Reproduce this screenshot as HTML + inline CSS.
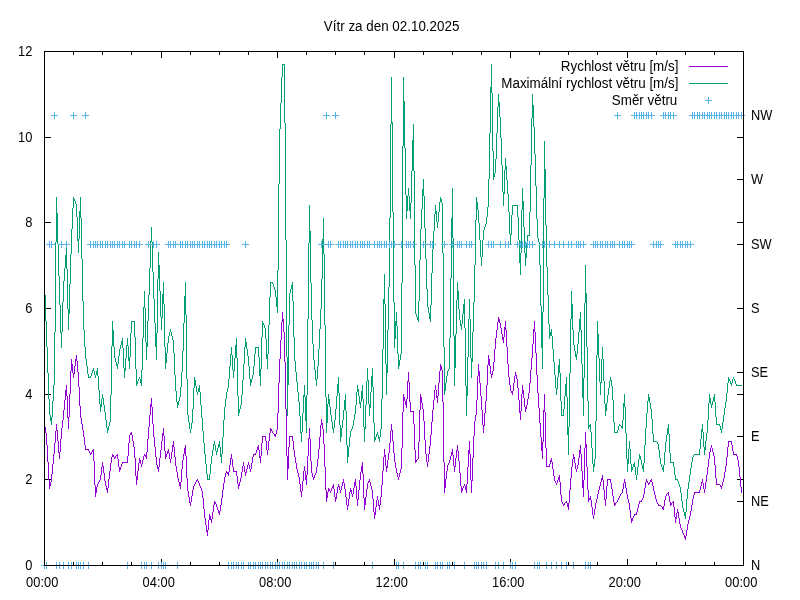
<!DOCTYPE html>
<html lang="cs"><head><meta charset="utf-8"><title>Vítr za den 02.10.2025</title>
<style>html,body{margin:0;padding:0;background:#fff;overflow:hidden}svg{display:block}text{font-family:"Liberation Sans",Arial,sans-serif;font-size:13.33px;fill:#000}</style></head><body>
<svg width="800" height="600" viewBox="0 0 800 600">
<rect width="800" height="600" fill="#fff"/>
<text transform="translate(391.6 30.7) scale(1.005 1.04)" text-anchor="middle">Vítr za den 02.10.2025</text>
<text transform="translate(32.4 569.6) scale(0.965 1.04)" text-anchor="end">0</text>
<text transform="translate(32.4 483.6) scale(0.965 1.04)" text-anchor="end">2</text>
<text transform="translate(32.4 398.6) scale(0.965 1.04)" text-anchor="end">4</text>
<text transform="translate(32.4 312.6) scale(0.965 1.04)" text-anchor="end">6</text>
<text transform="translate(32.4 226.6) scale(0.965 1.04)" text-anchor="end">8</text>
<text transform="translate(32.4 141.6) scale(0.965 1.04)" text-anchor="end">10</text>
<text transform="translate(32.4 55.6) scale(0.965 1.04)" text-anchor="end">12</text>
<text transform="translate(42.2 586.8) scale(0.965 1.04)" text-anchor="middle">00:00</text>
<text transform="translate(158.7 586.8) scale(0.965 1.04)" text-anchor="middle">04:00</text>
<text transform="translate(275.2 586.8) scale(0.965 1.04)" text-anchor="middle">08:00</text>
<text transform="translate(391.7 586.8) scale(0.965 1.04)" text-anchor="middle">12:00</text>
<text transform="translate(508.2 586.8) scale(0.965 1.04)" text-anchor="middle">16:00</text>
<text transform="translate(624.7 586.8) scale(0.965 1.04)" text-anchor="middle">20:00</text>
<text transform="translate(741.2 586.8) scale(0.965 1.04)" text-anchor="middle">00:00</text>
<text transform="translate(751 569.6) scale(0.96 1.04)" text-anchor="start">N</text>
<text transform="translate(751 505.6) scale(0.96 1.04)" text-anchor="start">NE</text>
<text transform="translate(751 440.6) scale(0.96 1.04)" text-anchor="start">E</text>
<text transform="translate(751 376.6) scale(0.96 1.04)" text-anchor="start">SE</text>
<text transform="translate(751 312.6) scale(0.96 1.04)" text-anchor="start">S</text>
<text transform="translate(751 248.6) scale(0.96 1.04)" text-anchor="start">SW</text>
<text transform="translate(751 183.6) scale(0.96 1.04)" text-anchor="start">W</text>
<text transform="translate(751 119.6) scale(0.96 1.04)" text-anchor="start">NW</text>
<text transform="translate(678.4 70.8) scale(1.005 1.04)" text-anchor="end">Rychlost větru [m/s]</text>
<text transform="translate(678.4 87.8) scale(1.005 1.04)" text-anchor="end">Maximální rychlost větru [m/s]</text>
<text transform="translate(677.3 104.8) scale(1.005 1.04)" text-anchor="end">Směr větru</text>
<g shape-rendering="crispEdges" stroke="none">
<path fill="#000" d="M73 51h1v4h-1zM73 562h1v4h-1zM102 51h1v4h-1zM102 562h1v4h-1zM131 51h1v4h-1zM131 562h1v4h-1zM161 51h1v7h-1zM161 559h1v7h-1zM190 51h1v4h-1zM190 562h1v4h-1zM219 51h1v4h-1zM219 562h1v4h-1zM248 51h1v4h-1zM248 562h1v4h-1zM277 51h1v7h-1zM277 559h1v7h-1zM306 51h1v4h-1zM306 562h1v4h-1zM335 51h1v4h-1zM335 562h1v4h-1zM364 51h1v4h-1zM364 562h1v4h-1zM394 51h1v7h-1zM394 559h1v7h-1zM423 51h1v4h-1zM423 562h1v4h-1zM452 51h1v4h-1zM452 562h1v4h-1zM481 51h1v4h-1zM481 562h1v4h-1zM510 51h1v7h-1zM510 559h1v7h-1zM539 51h1v4h-1zM539 562h1v4h-1zM568 51h1v4h-1zM568 562h1v4h-1zM597 51h1v4h-1zM597 562h1v4h-1zM627 51h1v7h-1zM627 559h1v7h-1zM656 51h1v4h-1zM656 562h1v4h-1zM685 51h1v4h-1zM685 562h1v4h-1zM714 51h1v4h-1zM714 562h1v4h-1zM44 137h7v1h-7zM44 222h7v1h-7zM44 308h7v1h-7zM44 394h7v1h-7zM44 479h7v1h-7zM737 115h7v1h-7zM737 137h7v1h-7zM737 179h7v1h-7zM737 222h7v1h-7zM737 244h7v1h-7zM737 308h7v1h-7zM737 372h7v1h-7zM737 394h7v1h-7zM737 436h7v1h-7zM737 479h7v1h-7zM737 501h7v1h-7zM737 565h7v1h-7z"/>
<path fill="#9400d3" d="M44 424h1v3h-1zM45 427h1v6h-1zM46 433h1v12h-1zM47 445h1v17h-1zM48 462h1v18h-1zM49 480h1v9h-1zM50 482h1v4h-1zM51 474h1v8h-1zM52 464h1v10h-1zM53 454h1v10h-1zM54 443h1v11h-1zM55 431h1v12h-1zM56 424h1v7h-1zM57 430h1v11h-1zM58 441h1v12h-1zM59 452h1v7h-1zM60 439h1v13h-1zM61 428h1v11h-1zM62 420h1v8h-1zM63 410h1v10h-1zM64 400h1v10h-1zM65 390h1v10h-1zM66 385h1v11h-1zM67 396h1v22h-1zM68 417h1v12h-1zM69 394h1v23h-1zM70 371h1v23h-1zM71 359h1v12h-1zM72 364h1v9h-1zM73 373h1v5h-1zM74 366h1v8h-1zM75 359h1v7h-1zM76 355h1v6h-1zM77 361h1v11h-1zM78 372h1v15h-1zM79 387h1v19h-1zM80 406h1v12h-1zM81 418h1v6h-1zM82 424h1v6h-1zM83 430h1v7h-1zM84 437h1v8h-1zM85 445h1v5h-1zM88 449h1v2h-1zM89 451h1v2h-1zM90 453h1v2h-1zM91 452h1v2h-1zM92 450h1v2h-1zM93 449h1v12h-1zM94 461h1v24h-1zM95 485h1v12h-1zM96 487h1v6h-1zM97 484h1v3h-1zM98 482h1v2h-1zM99 480h1v2h-1zM100 475h1v5h-1zM101 467h1v8h-1zM102 462h1v5h-1zM103 466h1v7h-1zM104 473h1v8h-1zM105 481h1v5h-1zM106 486h1v4h-1zM107 488h1v5h-1zM108 479h1v9h-1zM109 471h1v8h-1zM110 463h1v8h-1zM111 457h1v6h-1zM112 454h1v3h-1zM113 455h1v2h-1zM114 457h1v2h-1zM115 456h1v2h-1zM117 454h1v5h-1zM118 459h1v8h-1zM119 467h1v5h-1zM120 467h1v3h-1zM121 464h1v3h-1zM122 462h1v2h-1zM127 456h1v7h-1zM128 443h1v13h-1zM129 435h1v8h-1zM130 433h1v2h-1zM131 432h1v3h-1zM132 435h1v6h-1zM133 441h1v6h-1zM134 447h1v11h-1zM135 458h1v18h-1zM136 476h1v9h-1zM137 471h1v9h-1zM138 463h1v8h-1zM139 458h1v5h-1zM140 460h1v4h-1zM141 464h1v3h-1zM142 460h1v4h-1zM143 456h1v4h-1zM144 454h1v2h-1zM145 455h1v2h-1zM146 452h1v7h-1zM147 439h1v13h-1zM148 427h1v12h-1zM149 415h1v12h-1zM150 404h1v11h-1zM151 398h1v9h-1zM152 407h1v17h-1zM153 424h1v13h-1zM154 437h1v10h-1zM155 447h1v10h-1zM156 457h1v8h-1zM157 465h1v4h-1zM158 467h1v5h-1zM159 458h1v9h-1zM160 450h1v8h-1zM161 441h1v9h-1zM162 433h1v8h-1zM163 428h1v8h-1zM164 436h1v15h-1zM165 451h1v8h-1zM166 454h1v3h-1zM167 451h1v3h-1zM168 449h1v4h-1zM169 453h1v6h-1zM170 459h1v4h-1zM171 452h1v7h-1zM172 445h1v7h-1zM173 441h1v6h-1zM174 447h1v10h-1zM175 457h1v9h-1zM176 466h1v6h-1zM177 472h1v6h-1zM178 478h1v4h-1zM179 482h1v4h-1zM180 482h1v7h-1zM181 469h1v13h-1zM182 460h1v9h-1zM183 454h1v6h-1zM184 448h1v6h-1zM185 445h1v11h-1zM186 456h1v22h-1zM187 478h1v13h-1zM188 491h1v6h-1zM189 497h1v6h-1zM190 502h1v4h-1zM191 496h1v6h-1zM192 490h1v6h-1zM193 486h1v4h-1zM194 484h1v2h-1zM195 482h1v2h-1zM196 480h1v2h-1zM197 479h1v2h-1zM198 481h1v2h-1zM199 483h1v3h-1zM200 486h1v2h-1zM201 488h1v3h-1zM202 491h1v7h-1zM203 498h1v11h-1zM204 509h1v9h-1zM205 518h1v7h-1zM206 525h1v7h-1zM207 530h1v6h-1zM208 520h1v10h-1zM209 514h1v6h-1zM210 516h1v4h-1zM211 519h1v4h-1zM212 512h1v7h-1zM213 505h1v7h-1zM214 501h1v4h-1zM215 502h1v2h-1zM216 504h1v3h-1zM217 507h1v3h-1zM218 510h1v3h-1zM219 511h1v4h-1zM220 505h1v6h-1zM221 498h1v7h-1zM222 490h1v8h-1zM223 483h1v7h-1zM224 477h1v6h-1zM225 473h1v4h-1zM226 471h1v2h-1zM227 472h1v2h-1zM228 472h1v4h-1zM229 465h1v7h-1zM230 458h1v7h-1zM231 454h1v5h-1zM232 459h1v8h-1zM233 467h1v5h-1zM236 471h1v5h-1zM237 476h1v8h-1zM238 484h1v5h-1zM239 482h1v4h-1zM240 478h1v4h-1zM241 472h1v6h-1zM242 466h1v6h-1zM243 462h1v4h-1zM244 466h1v6h-1zM245 472h1v4h-1zM246 469h1v4h-1zM247 465h1v4h-1zM248 462h1v3h-1zM249 465h1v4h-1zM250 469h1v3h-1zM251 463h1v6h-1zM252 457h1v6h-1zM253 454h1v3h-1zM255 453h1v2h-1zM256 450h1v3h-1zM257 447h1v3h-1zM258 445h1v5h-1zM259 450h1v8h-1zM260 456h1v7h-1zM261 443h1v13h-1zM262 436h1v7h-1zM265 436h1v5h-1zM266 441h1v9h-1zM267 450h1v5h-1zM268 441h1v9h-1zM269 433h1v8h-1zM270 428h1v5h-1zM271 429h1v2h-1zM272 431h1v2h-1zM274 434h1v2h-1zM275 434h1v3h-1zM276 430h1v4h-1zM277 413h1v17h-1zM278 383h1v30h-1zM279 359h1v24h-1zM280 340h1v19h-1zM281 322h1v18h-1zM282 312h1v10h-1zM283 319h1v13h-1zM284 332h1v30h-1zM285 362h1v47h-1zM286 409h1v47h-1zM287 456h1v24h-1zM288 447h1v22h-1zM289 436h1v11h-1zM292 436h1v5h-1zM293 441h1v9h-1zM294 450h1v7h-1zM295 457h1v6h-1zM296 463h1v6h-1zM297 469h1v4h-1zM298 473h1v4h-1zM299 477h1v7h-1zM300 484h1v8h-1zM301 491h1v6h-1zM302 481h1v10h-1zM303 471h1v10h-1zM304 466h1v5h-1zM305 471h1v9h-1zM306 475h1v10h-1zM307 456h1v19h-1zM308 438h1v18h-1zM309 428h1v11h-1zM310 439h1v22h-1zM311 461h1v12h-1zM312 473h1v4h-1zM313 477h1v3h-1zM314 475h1v3h-1zM315 473h1v2h-1zM316 467h1v6h-1zM317 459h1v8h-1zM318 449h1v10h-1zM319 437h1v12h-1zM320 425h1v12h-1zM321 419h1v6h-1zM322 423h1v6h-1zM323 429h1v15h-1zM324 444h1v23h-1zM325 467h1v23h-1zM326 490h1v12h-1zM327 492h1v6h-1zM328 488h1v4h-1zM329 489h1v2h-1zM330 491h1v2h-1zM331 488h1v3h-1zM332 486h1v2h-1zM333 484h1v5h-1zM334 489h1v8h-1zM335 497h1v5h-1zM336 493h1v6h-1zM337 487h1v6h-1zM338 484h1v3h-1zM339 486h1v4h-1zM340 490h1v3h-1zM341 486h1v4h-1zM342 482h1v4h-1zM343 479h1v4h-1zM344 483h1v6h-1zM345 489h1v8h-1zM346 497h1v8h-1zM347 505h1v5h-1zM348 499h1v7h-1zM349 492h1v7h-1zM350 488h1v4h-1zM351 490h1v4h-1zM352 494h1v3h-1zM353 488h1v6h-1zM354 482h1v6h-1zM355 479h1v7h-1zM356 486h1v13h-1zM357 499h1v7h-1zM358 490h1v10h-1zM359 480h1v10h-1zM360 472h1v8h-1zM361 466h1v6h-1zM362 462h1v12h-1zM363 474h1v24h-1zM364 498h1v12h-1zM365 497h1v8h-1zM366 489h1v8h-1zM367 483h1v6h-1zM368 481h1v2h-1zM369 479h1v3h-1zM370 482h1v4h-1zM371 486h1v4h-1zM372 490h1v9h-1zM373 499h1v13h-1zM374 512h1v7h-1zM375 507h1v8h-1zM376 500h1v7h-1zM377 496h1v4h-1zM378 500h1v6h-1zM379 505h1v5h-1zM380 497h1v8h-1zM381 485h1v12h-1zM382 471h1v14h-1zM383 457h1v14h-1zM384 449h1v8h-1zM385 455h1v11h-1zM386 466h1v6h-1zM387 460h1v8h-1zM388 453h1v7h-1zM389 443h1v10h-1zM390 431h1v12h-1zM391 424h1v7h-1zM392 430h1v11h-1zM393 441h1v12h-1zM394 453h1v9h-1zM395 462h1v6h-1zM396 468h1v5h-1zM397 473h1v4h-1zM398 477h1v3h-1zM399 473h1v4h-1zM400 469h1v4h-1zM401 448h1v21h-1zM402 412h1v36h-1zM403 394h1v18h-1zM404 397h1v4h-1zM405 401h1v4h-1zM406 399h1v9h-1zM407 381h1v18h-1zM408 372h1v10h-1zM409 382h1v20h-1zM410 402h1v10h-1zM413 411h1v13h-1zM414 424h1v26h-1zM415 450h1v13h-1zM416 460h1v2h-1zM418 442h1v17h-1zM419 410h1v32h-1zM420 394h1v16h-1zM421 397h1v6h-1zM422 403h1v6h-1zM423 409h1v12h-1zM424 421h1v19h-1zM425 440h1v14h-1zM426 454h1v8h-1zM427 462h1v5h-1zM428 454h1v8h-1zM429 446h1v8h-1zM430 435h1v11h-1zM431 422h1v13h-1zM432 410h1v12h-1zM433 400h1v10h-1zM434 390h1v10h-1zM435 385h1v5h-1zM436 390h1v8h-1zM437 396h1v7h-1zM438 383h1v13h-1zM439 371h1v12h-1zM440 364h1v7h-1zM441 366h1v4h-1zM442 370h1v32h-1zM443 402h1v60h-1zM444 462h1v31h-1zM445 479h1v9h-1zM446 471h1v8h-1zM447 465h1v6h-1zM448 463h1v2h-1zM449 460h1v3h-1zM450 456h1v4h-1zM451 452h1v4h-1zM452 449h1v6h-1zM453 455h1v11h-1zM454 466h1v6h-1zM455 458h1v9h-1zM456 450h1v8h-1zM457 445h1v6h-1zM458 451h1v10h-1zM459 461h1v12h-1zM460 473h1v13h-1zM461 486h1v7h-1zM462 488h1v3h-1zM463 486h1v2h-1zM464 484h1v2h-1zM465 486h1v4h-1zM466 484h1v9h-1zM467 467h1v17h-1zM468 450h1v17h-1zM469 441h1v13h-1zM470 454h1v26h-1zM471 480h1v13h-1zM472 458h1v23h-1zM473 436h1v22h-1zM474 421h1v15h-1zM475 415h1v6h-1zM476 400h1v15h-1zM477 376h1v24h-1zM478 364h1v12h-1zM479 371h1v12h-1zM480 383h1v13h-1zM481 396h1v14h-1zM482 410h1v15h-1zM483 425h1v8h-1zM484 413h1v13h-1zM485 401h1v12h-1zM486 385h1v16h-1zM487 365h1v20h-1zM488 355h1v10h-1zM489 359h1v7h-1zM490 366h1v8h-1zM491 374h1v4h-1zM492 371h1v4h-1zM493 362h1v9h-1zM494 349h1v13h-1zM495 338h1v11h-1zM496 330h1v8h-1zM497 322h1v8h-1zM498 317h1v5h-1zM499 319h1v4h-1zM500 323h1v5h-1zM501 328h1v6h-1zM502 334h1v6h-1zM503 337h1v6h-1zM504 327h1v10h-1zM505 321h1v9h-1zM506 330h1v17h-1zM507 347h1v17h-1zM508 364h1v13h-1zM509 377h1v8h-1zM510 385h1v6h-1zM511 391h1v2h-1zM512 391h1v4h-1zM513 383h1v8h-1zM514 376h1v7h-1zM515 372h1v4h-1zM516 375h1v4h-1zM517 379h1v9h-1zM518 388h1v12h-1zM519 400h1v13h-1zM520 411h1v9h-1zM521 394h1v17h-1zM522 385h1v9h-1zM523 390h1v8h-1zM524 398h1v9h-1zM525 407h1v5h-1zM526 405h1v4h-1zM527 399h1v6h-1zM528 393h1v6h-1zM529 383h1v10h-1zM530 370h1v13h-1zM531 358h1v12h-1zM532 344h1v14h-1zM533 329h1v15h-1zM534 321h1v11h-1zM535 332h1v21h-1zM536 353h1v22h-1zM537 375h1v18h-1zM538 393h1v15h-1zM539 408h1v15h-1zM540 423h1v14h-1zM541 437h1v14h-1zM542 442h1v17h-1zM543 410h1v32h-1zM544 394h1v18h-1zM545 412h1v36h-1zM546 448h1v19h-1zM549 464h1v3h-1zM550 460h1v4h-1zM551 458h1v4h-1zM552 462h1v7h-1zM553 469h1v7h-1zM554 476h1v5h-1zM555 481h1v2h-1zM556 483h1v2h-1zM557 480h1v3h-1zM558 477h1v3h-1zM559 475h1v7h-1zM560 482h1v13h-1zM561 495h1v7h-1zM562 502h1v2h-1zM563 504h1v2h-1zM564 503h1v2h-1zM566 501h1v2h-1zM567 503h1v4h-1zM568 503h1v7h-1zM569 490h1v13h-1zM570 478h1v12h-1zM571 467h1v11h-1zM572 459h1v8h-1zM573 454h1v5h-1zM574 457h1v6h-1zM575 463h1v6h-1zM576 469h1v3h-1zM577 465h1v4h-1zM578 458h1v7h-1zM579 450h1v8h-1zM580 445h1v9h-1zM581 454h1v17h-1zM582 471h1v17h-1zM583 480h1v17h-1zM584 448h1v32h-1zM585 432h1v16h-1zM586 444h1v23h-1zM587 467h1v23h-1zM588 490h1v12h-1zM589 498h1v2h-1zM590 496h1v4h-1zM591 500h1v7h-1zM592 507h1v8h-1zM593 515h1v4h-1zM594 509h1v6h-1zM595 503h1v6h-1zM596 499h1v4h-1zM597 494h1v5h-1zM598 490h1v4h-1zM599 486h1v4h-1zM600 482h1v4h-1zM601 478h1v4h-1zM602 475h1v5h-1zM603 480h1v10h-1zM604 490h1v10h-1zM605 499h1v7h-1zM606 486h1v13h-1zM607 479h1v7h-1zM610 479h1v4h-1zM611 483h1v6h-1zM612 489h1v7h-1zM613 496h1v6h-1zM614 502h1v4h-1zM615 503h1v2h-1zM617 500h1v2h-1zM618 498h1v2h-1zM619 496h1v2h-1zM620 494h1v2h-1zM622 489h1v4h-1zM623 483h1v6h-1zM624 479h1v4h-1zM625 482h1v6h-1zM626 488h1v6h-1zM627 494h1v5h-1zM628 499h1v4h-1zM629 503h1v7h-1zM630 510h1v8h-1zM631 518h1v5h-1zM632 518h1v3h-1zM633 516h1v2h-1zM634 514h1v2h-1zM636 512h1v3h-1zM637 508h1v4h-1zM638 504h1v4h-1zM639 501h1v3h-1zM641 500h1v2h-1zM642 498h1v2h-1zM643 494h1v4h-1zM644 488h1v6h-1zM645 482h1v6h-1zM646 479h1v3h-1zM647 481h1v2h-1zM648 483h1v2h-1zM649 482h1v2h-1zM650 480h1v2h-1zM651 479h1v3h-1zM652 482h1v4h-1zM653 486h1v5h-1zM654 491h1v4h-1zM655 495h1v4h-1zM656 499h1v3h-1zM657 502h1v2h-1zM658 504h1v2h-1zM662 507h1v2h-1zM663 506h1v4h-1zM664 500h1v6h-1zM665 496h1v4h-1zM666 494h1v2h-1zM668 492h1v4h-1zM669 496h1v6h-1zM670 502h1v4h-1zM671 503h1v2h-1zM673 501h1v6h-1zM674 507h1v10h-1zM675 517h1v6h-1zM676 513h1v6h-1zM677 509h1v4h-1zM678 512h1v6h-1zM679 518h1v6h-1zM680 524h1v4h-1zM681 528h1v2h-1zM682 530h1v3h-1zM683 533h1v2h-1zM684 535h1v3h-1zM685 536h1v4h-1zM686 530h1v6h-1zM687 524h1v6h-1zM688 520h1v4h-1zM689 516h1v4h-1zM690 511h1v5h-1zM691 505h1v6h-1zM692 499h1v6h-1zM693 495h1v4h-1zM694 492h1v3h-1zM699 490h1v3h-1zM700 486h1v4h-1zM701 482h1v4h-1zM702 479h1v4h-1zM703 483h1v6h-1zM704 489h1v4h-1zM705 482h1v7h-1zM706 475h1v7h-1zM707 467h1v8h-1zM708 459h1v8h-1zM709 452h1v7h-1zM710 448h1v4h-1zM711 445h1v3h-1zM712 448h1v4h-1zM713 452h1v4h-1zM714 456h1v9h-1zM715 465h1v13h-1zM716 478h1v7h-1zM720 485h1v2h-1zM721 486h1v3h-1zM722 482h1v4h-1zM723 478h1v4h-1zM724 472h1v6h-1zM725 466h1v6h-1zM726 457h1v9h-1zM727 447h1v10h-1zM728 441h1v6h-1zM731 441h1v4h-1zM732 445h1v6h-1zM733 451h1v4h-1zM736 454h1v2h-1zM737 456h1v4h-1zM738 460h1v7h-1zM739 467h1v10h-1zM740 477h1v10h-1zM741 487h1v6h-1zM86 449h2v1h-2zM116 455h1v1h-1zM123 462h4v1h-4zM234 471h2v1h-2zM254 454h1v1h-1zM263 436h2v1h-2zM273 433h1v1h-1zM290 436h2v1h-2zM411 411h2v1h-2zM417 459h1v1h-1zM547 466h2v1h-2zM565 502h1v1h-1zM608 479h2v1h-2zM616 502h1v1h-1zM621 493h1v1h-1zM635 514h1v1h-1zM640 501h1v1h-1zM659 505h2v1h-2zM661 506h1v1h-1zM667 493h1v1h-1zM672 502h1v1h-1zM689 66h39v1h-39zM695 492h4v1h-4zM717 484h3v1h-3zM729 441h2v1h-2zM734 454h2v1h-2z"/>
<path fill="#009e73" d="M44 282h1v13h-1zM45 295h1v26h-1zM46 321h1v26h-1zM47 347h1v26h-1zM48 373h1v26h-1zM49 399h1v16h-1zM50 415h1v6h-1zM51 417h1v8h-1zM52 401h1v16h-1zM53 385h1v16h-1zM54 332h1v53h-1zM55 242h1v90h-1zM56 197h1v45h-1zM57 213h1v31h-1zM58 244h1v32h-1zM59 276h1v29h-1zM60 305h1v28h-1zM61 332h1v16h-1zM62 302h1v30h-1zM63 281h1v21h-1zM64 268h1v13h-1zM65 255h1v13h-1zM66 248h1v21h-1zM67 269h1v40h-1zM68 309h1v21h-1zM69 284h1v30h-1zM70 254h1v30h-1zM71 229h1v25h-1zM72 208h1v21h-1zM73 197h1v11h-1zM74 199h1v2h-1zM75 201h1v3h-1zM76 204h1v13h-1zM77 217h1v24h-1zM78 239h1v14h-1zM79 211h1v28h-1zM80 197h1v21h-1zM81 218h1v41h-1zM82 259h1v42h-1zM83 301h1v29h-1zM84 330h1v17h-1zM85 347h1v12h-1zM86 359h1v7h-1zM87 366h1v8h-1zM88 374h1v4h-1zM90 376h1v2h-1zM91 373h1v3h-1zM92 370h1v3h-1zM93 368h1v3h-1zM94 371h1v4h-1zM95 375h1v3h-1zM96 371h1v4h-1zM97 368h1v8h-1zM98 376h1v14h-1zM99 390h1v14h-1zM100 404h1v8h-1zM101 399h1v8h-1zM102 394h1v5h-1zM103 398h1v7h-1zM104 405h1v7h-1zM105 412h1v8h-1zM106 420h1v8h-1zM107 428h1v5h-1zM108 426h1v4h-1zM109 422h1v4h-1zM110 395h1v27h-1zM111 346h1v49h-1zM112 321h1v25h-1zM113 330h1v17h-1zM114 347h1v11h-1zM115 358h1v4h-1zM116 362h1v4h-1zM117 364h1v5h-1zM118 356h1v8h-1zM119 349h1v7h-1zM120 345h1v4h-1zM121 341h1v4h-1zM122 338h1v10h-1zM123 348h1v20h-1zM124 368h1v10h-1zM125 358h1v13h-1zM126 345h1v13h-1zM127 338h1v8h-1zM128 346h1v15h-1zM129 357h1v12h-1zM130 333h1v24h-1zM131 321h1v12h-1zM134 321h1v16h-1zM135 337h1v32h-1zM136 369h1v17h-1zM137 381h1v3h-1zM138 379h1v2h-1zM139 377h1v2h-1zM140 379h1v4h-1zM141 370h1v16h-1zM142 338h1v32h-1zM143 307h1v31h-1zM144 291h1v17h-1zM145 308h1v34h-1zM146 342h1v18h-1zM147 321h1v26h-1zM148 295h1v26h-1zM149 268h1v27h-1zM150 241h1v27h-1zM151 227h1v15h-1zM152 242h1v30h-1zM153 272h1v27h-1zM154 299h1v24h-1zM155 323h1v24h-1zM156 333h1v27h-1zM157 279h1v54h-1zM158 252h1v27h-1zM159 265h1v26h-1zM160 291h1v26h-1zM161 317h1v13h-1zM162 294h1v24h-1zM163 282h1v22h-1zM164 304h1v43h-1zM165 347h1v22h-1zM166 353h1v10h-1zM167 343h1v10h-1zM168 336h1v7h-1zM169 332h1v4h-1zM170 329h1v3h-1zM171 332h1v4h-1zM172 336h1v4h-1zM173 340h1v13h-1zM174 353h1v22h-1zM175 375h1v16h-1zM176 391h1v11h-1zM177 402h1v6h-1zM178 401h1v4h-1zM179 397h1v4h-1zM180 387h1v10h-1zM181 372h1v15h-1zM182 351h1v21h-1zM183 323h1v28h-1zM184 296h1v27h-1zM185 282h1v33h-1zM186 315h1v64h-1zM187 379h1v36h-1zM188 415h1v7h-1zM189 422h1v7h-1zM190 429h1v4h-1zM191 423h1v6h-1zM192 409h1v14h-1zM193 388h1v21h-1zM194 377h1v11h-1zM195 380h1v6h-1zM196 386h1v6h-1zM197 392h1v3h-1zM198 388h1v4h-1zM199 385h1v7h-1zM200 392h1v13h-1zM201 405h1v13h-1zM202 418h1v13h-1zM203 431h1v12h-1zM204 443h1v11h-1zM205 454h1v10h-1zM206 464h1v10h-1zM207 474h1v6h-1zM209 474h1v6h-1zM210 464h1v10h-1zM211 456h1v8h-1zM212 450h1v6h-1zM213 444h1v6h-1zM214 441h1v4h-1zM215 445h1v6h-1zM216 451h1v4h-1zM217 448h1v4h-1zM218 444h1v4h-1zM219 441h1v6h-1zM220 447h1v10h-1zM221 454h1v9h-1zM222 437h1v17h-1zM223 420h1v17h-1zM224 407h1v13h-1zM225 399h1v8h-1zM226 392h1v7h-1zM227 388h1v4h-1zM228 379h1v9h-1zM229 366h1v13h-1zM230 354h1v12h-1zM231 347h1v8h-1zM232 355h1v15h-1zM233 370h1v8h-1zM234 358h1v13h-1zM235 345h1v13h-1zM236 338h1v20h-1zM237 358h1v38h-1zM238 396h1v20h-1zM239 409h1v4h-1zM240 405h1v4h-1zM241 395h1v10h-1zM242 380h1v15h-1zM243 364h1v16h-1zM244 347h1v17h-1zM245 338h1v9h-1zM246 342h1v7h-1zM247 349h1v7h-1zM248 356h1v10h-1zM249 366h1v13h-1zM250 379h1v7h-1zM251 379h1v4h-1zM252 375h1v4h-1zM253 366h1v9h-1zM254 354h1v12h-1zM255 347h1v7h-1zM258 347h1v10h-1zM259 357h1v19h-1zM260 369h1v17h-1zM261 337h1v32h-1zM262 321h1v16h-1zM263 323h1v2h-1zM264 325h1v3h-1zM265 328h1v11h-1zM266 339h1v20h-1zM267 354h1v15h-1zM268 325h1v29h-1zM269 297h1v28h-1zM270 282h1v15h-1zM272 282h1v2h-1zM273 284h1v3h-1zM274 287h1v3h-1zM275 290h1v7h-1zM276 297h1v10h-1zM277 270h1v43h-1zM278 184h1v86h-1zM279 129h1v55h-1zM280 103h1v26h-1zM281 77h1v26h-1zM282 64h1v13h-1zM284 64h1v59h-1zM285 123h1v117h-1zM286 240h1v117h-1zM287 357h1v59h-1zM288 325h1v60h-1zM289 293h1v32h-1zM290 289h1v4h-1zM291 285h1v4h-1zM292 282h1v19h-1zM293 301h1v36h-1zM294 337h1v24h-1zM295 361h1v11h-1zM296 372h1v10h-1zM297 382h1v10h-1zM298 392h1v10h-1zM299 402h1v14h-1zM300 416h1v17h-1zM301 432h1v10h-1zM302 413h1v19h-1zM303 395h1v18h-1zM304 385h1v12h-1zM305 397h1v24h-1zM306 395h1v38h-1zM307 319h1v76h-1zM308 243h1v76h-1zM309 205h1v38h-1zM310 231h1v52h-1zM311 283h1v37h-1zM312 320h1v24h-1zM313 344h1v16h-1zM314 360h1v10h-1zM315 370h1v10h-1zM316 379h1v7h-1zM317 366h1v13h-1zM318 349h1v17h-1zM319 329h1v20h-1zM320 309h1v20h-1zM321 279h1v30h-1zM322 239h1v40h-1zM323 218h1v36h-1zM324 254h1v71h-1zM325 325h1v72h-1zM326 397h1v36h-1zM327 404h1v19h-1zM328 394h1v10h-1zM329 399h1v8h-1zM330 407h1v8h-1zM331 415h1v7h-1zM332 422h1v7h-1zM333 428h1v5h-1zM334 420h1v8h-1zM335 409h1v11h-1zM336 396h1v13h-1zM337 384h1v12h-1zM338 377h1v16h-1zM339 393h1v32h-1zM340 425h1v17h-1zM341 428h1v9h-1zM342 420h1v8h-1zM343 410h1v10h-1zM344 400h1v10h-1zM345 394h1v17h-1zM346 411h1v34h-1zM347 445h1v18h-1zM348 447h1v10h-1zM349 437h1v10h-1zM350 431h1v6h-1zM351 429h1v2h-1zM352 426h1v3h-1zM353 420h1v6h-1zM354 414h1v6h-1zM355 405h1v9h-1zM356 392h1v13h-1zM357 385h1v7h-1zM358 389h1v7h-1zM359 396h1v8h-1zM360 402h1v6h-1zM361 391h1v11h-1zM362 385h1v14h-1zM363 399h1v28h-1zM364 427h1v15h-1zM365 405h1v24h-1zM366 381h1v24h-1zM367 368h1v13h-1zM368 380h1v24h-1zM369 404h1v12h-1zM370 392h1v16h-1zM371 376h1v16h-1zM372 368h1v19h-1zM373 387h1v36h-1zM374 423h1v19h-1zM375 437h1v3h-1zM376 434h1v3h-1zM377 432h1v3h-1zM378 435h1v4h-1zM379 437h1v5h-1zM380 429h1v8h-1zM381 399h1v30h-1zM382 349h1v50h-1zM383 299h1v50h-1zM384 274h1v30h-1zM385 304h1v60h-1zM386 364h1v31h-1zM387 330h1v43h-1zM388 287h1v43h-1zM389 218h1v69h-1zM390 124h1v94h-1zM391 77h1v47h-1zM392 122h1v90h-1zM393 212h1v90h-1zM394 302h1v46h-1zM395 321h1v18h-1zM396 312h1v14h-1zM397 326h1v28h-1zM398 354h1v15h-1zM399 360h1v6h-1zM400 354h1v6h-1zM401 283h1v71h-1zM402 146h1v137h-1zM403 77h1v69h-1zM404 101h1v47h-1zM405 148h1v47h-1zM406 195h1v24h-1zM407 196h1v15h-1zM408 188h1v8h-1zM409 196h1v15h-1zM410 203h1v16h-1zM411 171h1v32h-1zM412 140h1v31h-1zM413 124h1v47h-1zM414 171h1v94h-1zM415 265h1v49h-1zM416 314h1v3h-1zM417 317h1v3h-1zM418 301h1v21h-1zM419 260h1v41h-1zM420 229h1v31h-1zM421 209h1v20h-1zM422 189h1v20h-1zM423 179h1v17h-1zM424 196h1v32h-1zM425 228h1v31h-1zM426 259h1v30h-1zM427 289h1v18h-1zM428 307h1v6h-1zM429 313h1v6h-1zM430 305h1v17h-1zM431 273h1v32h-1zM432 249h1v24h-1zM433 231h1v18h-1zM434 214h1v17h-1zM435 205h1v9h-1zM436 211h1v11h-1zM437 222h1v6h-1zM438 212h1v10h-1zM439 202h1v10h-1zM440 197h1v5h-1zM441 199h1v4h-1zM442 203h1v50h-1zM443 253h1v94h-1zM444 347h1v48h-1zM445 383h1v8h-1zM446 376h1v7h-1zM447 371h1v5h-1zM448 369h1v2h-1zM449 338h1v31h-1zM450 278h1v60h-1zM451 218h1v60h-1zM452 188h1v50h-1zM453 238h1v98h-1zM454 336h1v50h-1zM455 334h1v34h-1zM456 300h1v34h-1zM457 282h1v18h-1zM458 291h1v18h-1zM459 309h1v11h-1zM460 320h1v6h-1zM461 324h1v6h-1zM462 314h1v10h-1zM463 304h1v10h-1zM464 299h1v29h-1zM465 328h1v58h-1zM466 386h1v30h-1zM467 357h1v39h-1zM468 319h1v38h-1zM469 299h1v20h-1zM470 319h1v39h-1zM471 358h1v20h-1zM472 332h1v30h-1zM473 302h1v30h-1zM474 265h1v37h-1zM475 220h1v45h-1zM476 197h1v23h-1zM477 202h1v8h-1zM478 210h1v13h-1zM479 223h1v17h-1zM480 240h1v17h-1zM481 257h1v9h-1zM482 240h1v17h-1zM483 230h1v10h-1zM484 227h1v3h-1zM485 224h1v3h-1zM486 217h1v7h-1zM487 207h1v10h-1zM488 179h1v28h-1zM489 133h1v46h-1zM490 87h1v46h-1zM491 64h1v29h-1zM492 93h1v58h-1zM493 151h1v29h-1zM494 173h1v4h-1zM495 159h1v14h-1zM496 133h1v26h-1zM497 107h1v26h-1zM498 94h1v13h-1zM499 102h1v15h-1zM500 117h1v21h-1zM501 138h1v27h-1zM502 165h1v27h-1zM503 192h1v14h-1zM504 170h1v24h-1zM505 158h1v12h-1zM506 166h1v14h-1zM507 180h1v14h-1zM508 194h1v18h-1zM509 212h1v22h-1zM510 234h1v11h-1zM511 215h1v20h-1zM512 205h1v10h-1zM517 205h1v12h-1zM518 217h1v23h-1zM519 240h1v23h-1zM520 253h1v22h-1zM521 210h1v43h-1zM522 188h1v22h-1zM523 201h1v26h-1zM524 227h1v26h-1zM525 253h1v13h-1zM526 243h1v15h-1zM527 235h1v8h-1zM529 212h1v24h-1zM530 165h1v47h-1zM531 118h1v47h-1zM532 94h1v24h-1zM533 105h1v22h-1zM534 127h1v27h-1zM535 154h1v32h-1zM536 186h1v33h-1zM537 219h1v19h-1zM538 238h1v4h-1zM539 242h1v23h-1zM540 265h1v41h-1zM541 306h1v42h-1zM542 312h1v57h-1zM543 198h1v114h-1zM544 141h1v57h-1zM545 169h1v56h-1zM546 225h1v42h-1zM547 267h1v28h-1zM548 295h1v29h-1zM549 324h1v15h-1zM550 332h1v4h-1zM551 329h1v7h-1zM552 336h1v13h-1zM553 349h1v13h-1zM554 362h1v13h-1zM555 375h1v13h-1zM556 388h1v7h-1zM557 377h1v12h-1zM558 365h1v12h-1zM559 359h1v14h-1zM560 373h1v28h-1zM561 401h1v15h-1zM563 409h1v7h-1zM564 396h1v13h-1zM565 384h1v12h-1zM566 377h1v20h-1zM567 397h1v38h-1zM568 427h1v28h-1zM569 373h1v54h-1zM570 319h1v54h-1zM571 291h1v28h-1zM572 304h1v26h-1zM573 330h1v15h-1zM574 345h1v6h-1zM575 351h1v6h-1zM576 354h1v6h-1zM577 344h1v10h-1zM578 332h1v12h-1zM579 319h1v13h-1zM580 312h1v18h-1zM581 330h1v34h-1zM582 364h1v34h-1zM583 378h1v38h-1zM584 303h1v75h-1zM585 265h1v38h-1zM586 293h1v54h-1zM587 347h1v54h-1zM588 401h1v28h-1zM589 425h1v2h-1zM590 424h1v8h-1zM591 432h1v16h-1zM592 448h1v16h-1zM593 464h1v8h-1zM594 459h1v8h-1zM595 421h1v38h-1zM596 355h1v66h-1zM597 321h1v34h-1zM598 334h1v24h-1zM599 358h1v24h-1zM600 382h1v13h-1zM601 359h1v24h-1zM602 347h1v12h-1zM603 359h1v22h-1zM604 381h1v23h-1zM605 404h1v12h-1zM606 403h1v8h-1zM607 395h1v8h-1zM608 388h1v7h-1zM609 381h1v7h-1zM610 377h1v4h-1zM611 380h1v6h-1zM612 386h1v14h-1zM613 400h1v22h-1zM614 422h1v11h-1zM617 430h1v3h-1zM618 426h1v4h-1zM619 424h1v2h-1zM621 426h1v2h-1zM622 420h1v9h-1zM623 403h1v17h-1zM624 394h1v13h-1zM625 407h1v26h-1zM626 433h1v26h-1zM627 459h1v13h-1zM628 449h1v15h-1zM629 441h1v8h-1zM630 449h1v15h-1zM631 464h1v8h-1zM632 467h1v3h-1zM633 464h1v3h-1zM634 462h1v5h-1zM635 467h1v8h-1zM636 475h1v5h-1zM637 467h1v8h-1zM638 459h1v8h-1zM639 454h1v5h-1zM640 456h1v4h-1zM641 460h1v5h-1zM642 465h1v4h-1zM643 463h1v9h-1zM644 445h1v18h-1zM645 428h1v17h-1zM646 413h1v15h-1zM647 401h1v12h-1zM648 394h1v7h-1zM649 397h1v6h-1zM650 403h1v6h-1zM651 409h1v10h-1zM652 419h1v15h-1zM653 434h1v8h-1zM657 442h1v2h-1zM658 444h1v6h-1zM659 450h1v8h-1zM660 458h1v6h-1zM661 464h1v3h-1zM662 467h1v3h-1zM663 465h1v7h-1zM664 452h1v13h-1zM665 442h1v10h-1zM666 435h1v7h-1zM667 428h1v7h-1zM668 424h1v10h-1zM669 434h1v19h-1zM670 453h1v10h-1zM673 462h1v5h-1zM674 467h1v8h-1zM675 475h1v5h-1zM677 479h1v2h-1zM678 481h1v3h-1zM679 484h1v3h-1zM680 487h1v6h-1zM681 493h1v8h-1zM682 501h1v7h-1zM683 508h1v4h-1zM684 512h1v4h-1zM685 512h1v7h-1zM686 499h1v13h-1zM687 489h1v10h-1zM688 482h1v7h-1zM689 475h1v7h-1zM690 468h1v7h-1zM691 462h1v6h-1zM692 457h1v5h-1zM693 455h1v2h-1zM699 449h1v6h-1zM700 439h1v10h-1zM701 429h1v10h-1zM702 424h1v8h-1zM703 432h1v15h-1zM704 447h1v8h-1zM705 441h1v9h-1zM706 433h1v8h-1zM707 420h1v13h-1zM708 403h1v17h-1zM709 394h1v9h-1zM710 398h1v6h-1zM711 404h1v4h-1zM712 401h1v4h-1zM713 397h1v4h-1zM714 394h1v8h-1zM715 402h1v15h-1zM716 417h1v8h-1zM719 424h1v2h-1zM720 426h1v4h-1zM721 429h1v4h-1zM722 422h1v7h-1zM723 415h1v7h-1zM724 408h1v7h-1zM725 402h1v6h-1zM726 393h1v9h-1zM727 383h1v10h-1zM728 377h1v6h-1zM729 379h1v2h-1zM730 381h1v3h-1zM731 383h1v3h-1zM732 379h1v4h-1zM733 377h1v2h-1zM734 379h1v2h-1zM735 381h1v3h-1zM736 384h1v2h-1zM89 377h1v1h-1zM132 321h2v1h-2zM208 479h1v1h-1zM256 347h2v1h-2zM271 282h1v1h-1zM283 64h1v1h-1zM513 205h4v1h-4zM528 235h1v1h-1zM562 415h1v1h-1zM615 432h2v1h-2zM620 425h1v1h-1zM654 441h3v1h-3zM671 462h2v1h-2zM676 479h1v1h-1zM689 83h39v1h-39zM694 454h5v1h-5zM717 424h2v1h-2zM737 385h5v1h-5z"/>
<path fill="#56b4e9" d="M44 562h1v7h-1zM46 562h1v7h-1zM49 241h1v7h-1zM51 241h1v7h-1zM54 112h1v7h-1zM56 562h1v7h-1zM59 562h1v7h-1zM61 241h1v7h-1zM63 562h1v7h-1zM66 241h1v7h-1zM68 562h1v7h-1zM71 562h1v7h-1zM73 112h1v7h-1zM76 562h1v7h-1zM78 562h1v7h-1zM80 562h1v7h-1zM83 562h1v7h-1zM85 112h1v7h-1zM88 562h1v7h-1zM90 241h1v7h-1zM93 241h1v7h-1zM95 241h1v7h-1zM97 241h1v7h-1zM100 241h1v7h-1zM102 241h1v7h-1zM105 241h1v7h-1zM107 241h1v7h-1zM110 241h1v7h-1zM112 241h1v7h-1zM114 241h1v7h-1zM117 241h1v7h-1zM119 241h1v7h-1zM122 241h1v7h-1zM124 241h1v7h-1zM127 562h1v7h-1zM129 241h1v7h-1zM131 241h1v7h-1zM134 241h1v7h-1zM136 241h1v7h-1zM139 241h1v7h-1zM141 562h1v7h-1zM144 562h1v7h-1zM146 562h1v7h-1zM148 241h1v7h-1zM151 562h1v7h-1zM153 241h1v7h-1zM156 241h1v7h-1zM158 562h1v7h-1zM161 562h1v7h-1zM163 562h1v7h-1zM165 562h1v7h-1zM168 241h1v7h-1zM170 241h1v7h-1zM173 241h1v7h-1zM175 241h1v7h-1zM177 562h1v7h-1zM180 241h1v7h-1zM182 241h1v7h-1zM185 241h1v7h-1zM187 241h1v7h-1zM190 241h1v7h-1zM192 241h1v7h-1zM194 241h1v7h-1zM197 241h1v7h-1zM199 241h1v7h-1zM202 241h1v7h-1zM204 241h1v7h-1zM207 241h1v7h-1zM209 241h1v7h-1zM211 241h1v7h-1zM214 241h1v7h-1zM216 241h1v7h-1zM219 241h1v7h-1zM221 241h1v7h-1zM224 241h1v7h-1zM226 241h1v7h-1zM228 562h1v7h-1zM231 562h1v7h-1zM233 562h1v7h-1zM236 562h1v7h-1zM238 562h1v7h-1zM241 562h1v7h-1zM243 562h1v7h-1zM245 241h1v7h-1zM248 562h1v7h-1zM250 562h1v7h-1zM253 562h1v7h-1zM255 562h1v7h-1zM258 562h1v7h-1zM260 562h1v7h-1zM262 562h1v7h-1zM265 562h1v7h-1zM267 562h1v7h-1zM270 562h1v7h-1zM272 562h1v7h-1zM275 562h1v7h-1zM277 562h1v7h-1zM279 562h1v7h-1zM282 562h1v7h-1zM284 562h1v7h-1zM287 562h1v7h-1zM289 562h1v7h-1zM292 562h1v7h-1zM294 562h1v7h-1zM296 562h1v7h-1zM299 562h1v7h-1zM301 562h1v7h-1zM304 562h1v7h-1zM306 562h1v7h-1zM309 562h1v7h-1zM311 562h1v7h-1zM313 562h1v7h-1zM316 562h1v7h-1zM318 562h1v7h-1zM321 241h1v7h-1zM323 562h1v7h-1zM326 112h1v7h-1zM328 241h1v7h-1zM330 241h1v7h-1zM333 562h1v7h-1zM335 112h1v7h-1zM338 241h1v7h-1zM340 241h1v7h-1zM343 241h1v7h-1zM345 241h1v7h-1zM347 241h1v7h-1zM350 241h1v7h-1zM352 241h1v7h-1zM355 241h1v7h-1zM357 241h1v7h-1zM360 241h1v7h-1zM362 241h1v7h-1zM364 241h1v7h-1zM367 241h1v7h-1zM369 241h1v7h-1zM372 562h1v7h-1zM374 241h1v7h-1zM377 241h1v7h-1zM379 241h1v7h-1zM381 241h1v7h-1zM384 241h1v7h-1zM386 241h1v7h-1zM389 241h1v7h-1zM391 241h1v7h-1zM394 241h1v7h-1zM396 562h1v7h-1zM398 562h1v7h-1zM401 241h1v7h-1zM403 562h1v7h-1zM406 241h1v7h-1zM408 241h1v7h-1zM410 241h1v7h-1zM413 241h1v7h-1zM415 562h1v7h-1zM418 562h1v7h-1zM420 562h1v7h-1zM423 241h1v7h-1zM425 562h1v7h-1zM427 562h1v7h-1zM430 241h1v7h-1zM432 241h1v7h-1zM435 562h1v7h-1zM437 562h1v7h-1zM440 562h1v7h-1zM442 562h1v7h-1zM444 241h1v7h-1zM447 562h1v7h-1zM449 562h1v7h-1zM452 241h1v7h-1zM454 562h1v7h-1zM457 241h1v7h-1zM459 241h1v7h-1zM461 241h1v7h-1zM464 562h1v7h-1zM466 241h1v7h-1zM469 241h1v7h-1zM471 241h1v7h-1zM474 562h1v7h-1zM476 562h1v7h-1zM478 562h1v7h-1zM481 562h1v7h-1zM483 562h1v7h-1zM486 562h1v7h-1zM488 241h1v7h-1zM491 241h1v7h-1zM493 241h1v7h-1zM495 562h1v7h-1zM498 562h1v7h-1zM500 241h1v7h-1zM503 562h1v7h-1zM505 241h1v7h-1zM508 241h1v7h-1zM510 562h1v7h-1zM512 562h1v7h-1zM515 562h1v7h-1zM517 241h1v7h-1zM520 241h1v7h-1zM522 241h1v7h-1zM525 241h1v7h-1zM527 241h1v7h-1zM529 241h1v7h-1zM532 241h1v7h-1zM534 562h1v7h-1zM537 562h1v7h-1zM539 562h1v7h-1zM542 241h1v7h-1zM544 241h1v7h-1zM546 562h1v7h-1zM549 241h1v7h-1zM551 562h1v7h-1zM554 241h1v7h-1zM556 562h1v7h-1zM559 241h1v7h-1zM561 562h1v7h-1zM563 241h1v7h-1zM566 562h1v7h-1zM568 241h1v7h-1zM571 241h1v7h-1zM573 562h1v7h-1zM576 241h1v7h-1zM578 241h1v7h-1zM580 241h1v7h-1zM583 241h1v7h-1zM585 562h1v7h-1zM588 562h1v7h-1zM590 562h1v7h-1zM593 241h1v7h-1zM595 241h1v7h-1zM597 241h1v7h-1zM600 241h1v7h-1zM602 241h1v7h-1zM605 241h1v7h-1zM607 241h1v7h-1zM610 241h1v7h-1zM612 241h1v7h-1zM614 241h1v7h-1zM617 112h1v7h-1zM619 241h1v7h-1zM622 241h1v7h-1zM624 241h1v7h-1zM627 241h1v7h-1zM629 241h1v7h-1zM631 241h1v7h-1zM634 112h1v7h-1zM636 112h1v7h-1zM639 112h1v7h-1zM641 112h1v7h-1zM643 112h1v7h-1zM646 112h1v7h-1zM648 112h1v7h-1zM651 112h1v7h-1zM653 241h1v7h-1zM656 241h1v7h-1zM658 241h1v7h-1zM660 241h1v7h-1zM663 112h1v7h-1zM665 112h1v7h-1zM668 112h1v7h-1zM670 112h1v7h-1zM673 112h1v7h-1zM675 241h1v7h-1zM677 241h1v7h-1zM680 241h1v7h-1zM682 241h1v7h-1zM685 241h1v7h-1zM687 241h1v7h-1zM690 241h1v7h-1zM692 112h1v7h-1zM694 112h1v7h-1zM697 112h1v7h-1zM699 112h1v7h-1zM702 112h1v7h-1zM704 112h1v7h-1zM707 112h1v7h-1zM708 97h1v7h-1zM709 112h1v7h-1zM711 112h1v7h-1zM714 112h1v7h-1zM716 112h1v7h-1zM719 112h1v7h-1zM721 112h1v7h-1zM724 112h1v7h-1zM726 112h1v7h-1zM728 112h1v7h-1zM731 112h1v7h-1zM733 112h1v7h-1zM736 112h1v7h-1zM738 112h1v7h-1zM741 112h1v7h-1zM41 565h3v1h-3zM45 565h1v1h-1zM46 244h3v1h-3zM47 565h3v1h-3zM50 244h1v1h-1zM51 115h3v1h-3zM52 244h3v1h-3zM53 565h3v1h-3zM55 115h3v1h-3zM57 565h2v1h-2zM58 244h3v1h-3zM60 565h3v1h-3zM62 244h4v1h-4zM64 565h4v1h-4zM67 244h3v1h-3zM69 565h2v1h-2zM70 115h3v1h-3zM72 565h4v1h-4zM74 115h3v1h-3zM77 565h1v1h-1zM79 565h1v1h-1zM81 565h2v1h-2zM82 115h3v1h-3zM84 565h4v1h-4zM86 115h3v1h-3zM87 244h3v1h-3zM89 565h3v1h-3zM91 244h2v1h-2zM94 244h1v1h-1zM96 244h1v1h-1zM98 244h2v1h-2zM101 244h1v1h-1zM103 244h2v1h-2zM106 244h1v1h-1zM108 244h2v1h-2zM111 244h1v1h-1zM113 244h1v1h-1zM115 244h2v1h-2zM118 244h1v1h-1zM120 244h2v1h-2zM123 244h1v1h-1zM124 565h3v1h-3zM125 244h4v1h-4zM128 565h3v1h-3zM130 244h1v1h-1zM132 244h2v1h-2zM135 244h1v1h-1zM137 244h2v1h-2zM138 565h3v1h-3zM140 244h3v1h-3zM142 565h2v1h-2zM145 244h3v1h-3zM145 565h1v1h-1zM147 565h4v1h-4zM149 244h4v1h-4zM152 565h6v1h-6zM154 244h2v1h-2zM157 244h3v1h-3zM159 565h2v1h-2zM162 565h1v1h-1zM164 565h1v1h-1zM165 244h3v1h-3zM166 565h3v1h-3zM169 244h1v1h-1zM171 244h2v1h-2zM174 244h1v1h-1zM174 565h3v1h-3zM176 244h4v1h-4zM178 565h3v1h-3zM181 244h1v1h-1zM183 244h2v1h-2zM186 244h1v1h-1zM188 244h2v1h-2zM191 244h1v1h-1zM193 244h1v1h-1zM195 244h2v1h-2zM198 244h1v1h-1zM200 244h2v1h-2zM203 244h1v1h-1zM205 244h2v1h-2zM208 244h1v1h-1zM210 244h1v1h-1zM212 244h2v1h-2zM215 244h1v1h-1zM217 244h2v1h-2zM220 244h1v1h-1zM222 244h2v1h-2zM225 244h1v1h-1zM225 565h3v1h-3zM227 244h3v1h-3zM229 565h2v1h-2zM232 565h1v1h-1zM234 565h2v1h-2zM237 565h1v1h-1zM239 565h2v1h-2zM242 244h3v1h-3zM242 565h1v1h-1zM244 565h4v1h-4zM246 244h3v1h-3zM249 565h1v1h-1zM251 565h2v1h-2zM254 565h1v1h-1zM256 565h2v1h-2zM259 565h1v1h-1zM261 565h1v1h-1zM263 565h2v1h-2zM266 565h1v1h-1zM268 565h2v1h-2zM271 565h1v1h-1zM273 565h2v1h-2zM276 565h1v1h-1zM278 565h1v1h-1zM280 565h2v1h-2zM283 565h1v1h-1zM285 565h2v1h-2zM288 565h1v1h-1zM290 565h2v1h-2zM293 565h1v1h-1zM295 565h1v1h-1zM297 565h2v1h-2zM300 565h1v1h-1zM302 565h2v1h-2zM305 565h1v1h-1zM307 565h2v1h-2zM310 565h1v1h-1zM312 565h1v1h-1zM314 565h2v1h-2zM317 565h1v1h-1zM318 244h3v1h-3zM319 565h4v1h-4zM322 244h6v1h-6zM323 115h3v1h-3zM324 565h3v1h-3zM327 115h3v1h-3zM329 244h1v1h-1zM330 565h3v1h-3zM331 244h3v1h-3zM332 115h3v1h-3zM334 565h3v1h-3zM335 244h3v1h-3zM336 115h3v1h-3zM339 244h1v1h-1zM341 244h2v1h-2zM344 244h1v1h-1zM346 244h1v1h-1zM348 244h2v1h-2zM351 244h1v1h-1zM353 244h2v1h-2zM356 244h1v1h-1zM358 244h2v1h-2zM361 244h1v1h-1zM363 244h1v1h-1zM365 244h2v1h-2zM368 244h1v1h-1zM369 565h3v1h-3zM370 244h4v1h-4zM373 565h3v1h-3zM375 244h2v1h-2zM378 244h1v1h-1zM380 244h1v1h-1zM382 244h2v1h-2zM385 244h1v1h-1zM387 244h2v1h-2zM390 244h1v1h-1zM392 244h2v1h-2zM393 565h3v1h-3zM395 244h6v1h-6zM397 565h1v1h-1zM399 565h4v1h-4zM402 244h4v1h-4zM404 565h3v1h-3zM407 244h1v1h-1zM409 244h1v1h-1zM411 244h2v1h-2zM412 565h3v1h-3zM414 244h3v1h-3zM416 565h2v1h-2zM419 565h1v1h-1zM420 244h3v1h-3zM421 565h4v1h-4zM424 244h6v1h-6zM426 565h1v1h-1zM428 565h3v1h-3zM431 244h1v1h-1zM432 565h3v1h-3zM433 244h3v1h-3zM436 565h1v1h-1zM438 565h2v1h-2zM441 244h3v1h-3zM441 565h1v1h-1zM443 565h4v1h-4zM445 244h3v1h-3zM448 565h1v1h-1zM449 244h3v1h-3zM450 565h4v1h-4zM453 244h4v1h-4zM455 565h3v1h-3zM458 244h1v1h-1zM460 244h1v1h-1zM461 565h3v1h-3zM462 244h4v1h-4zM465 565h3v1h-3zM467 244h2v1h-2zM470 244h1v1h-1zM471 565h3v1h-3zM472 244h3v1h-3zM475 565h1v1h-1zM477 565h1v1h-1zM479 565h2v1h-2zM482 565h1v1h-1zM484 565h2v1h-2zM485 244h3v1h-3zM487 565h3v1h-3zM489 244h2v1h-2zM492 244h1v1h-1zM492 565h3v1h-3zM494 244h6v1h-6zM496 565h2v1h-2zM499 565h4v1h-4zM501 244h4v1h-4zM504 565h6v1h-6zM506 244h2v1h-2zM509 244h3v1h-3zM511 565h1v1h-1zM513 565h2v1h-2zM514 244h3v1h-3zM516 565h3v1h-3zM518 244h2v1h-2zM521 244h1v1h-1zM523 244h2v1h-2zM526 244h1v1h-1zM528 244h1v1h-1zM530 244h2v1h-2zM531 565h3v1h-3zM533 244h3v1h-3zM535 565h2v1h-2zM538 565h1v1h-1zM539 244h3v1h-3zM540 565h6v1h-6zM543 244h1v1h-1zM545 244h4v1h-4zM547 565h4v1h-4zM550 244h4v1h-4zM552 565h4v1h-4zM555 244h4v1h-4zM557 565h4v1h-4zM560 244h3v1h-3zM562 565h4v1h-4zM564 244h4v1h-4zM567 565h6v1h-6zM569 244h2v1h-2zM572 244h4v1h-4zM574 565h3v1h-3zM577 244h1v1h-1zM579 244h1v1h-1zM581 244h2v1h-2zM582 565h3v1h-3zM584 244h3v1h-3zM586 565h2v1h-2zM589 565h1v1h-1zM590 244h3v1h-3zM591 565h3v1h-3zM594 244h1v1h-1zM596 244h1v1h-1zM598 244h2v1h-2zM601 244h1v1h-1zM603 244h2v1h-2zM606 244h1v1h-1zM608 244h2v1h-2zM611 244h1v1h-1zM613 244h1v1h-1zM614 115h3v1h-3zM615 244h4v1h-4zM618 115h3v1h-3zM620 244h2v1h-2zM623 244h1v1h-1zM625 244h2v1h-2zM628 244h1v1h-1zM630 244h1v1h-1zM631 115h3v1h-3zM632 244h3v1h-3zM635 115h1v1h-1zM637 115h2v1h-2zM640 115h1v1h-1zM642 115h1v1h-1zM644 115h2v1h-2zM647 115h1v1h-1zM649 115h2v1h-2zM650 244h3v1h-3zM652 115h3v1h-3zM654 244h2v1h-2zM657 244h1v1h-1zM659 244h1v1h-1zM660 115h3v1h-3zM661 244h3v1h-3zM664 115h1v1h-1zM666 115h2v1h-2zM669 115h1v1h-1zM671 115h2v1h-2zM672 244h3v1h-3zM674 115h3v1h-3zM676 244h1v1h-1zM678 244h2v1h-2zM681 244h1v1h-1zM683 244h2v1h-2zM686 244h1v1h-1zM688 244h2v1h-2zM689 115h3v1h-3zM691 244h3v1h-3zM693 115h1v1h-1zM695 115h2v1h-2zM698 115h1v1h-1zM700 115h2v1h-2zM703 115h1v1h-1zM705 100h3v1h-3zM705 115h2v1h-2zM708 115h1v1h-1zM709 100h3v1h-3zM710 115h1v1h-1zM712 115h2v1h-2zM715 115h1v1h-1zM717 115h2v1h-2zM720 115h1v1h-1zM722 115h2v1h-2zM725 115h1v1h-1zM727 115h1v1h-1zM729 115h2v1h-2zM732 115h1v1h-1zM734 115h2v1h-2zM737 115h1v1h-1zM739 115h2v1h-2zM742 115h3v1h-3z"/>
<path fill="#000" d="M44 51h1v515h-1zM743 51h1v515h-1zM45 51h698v1h-698zM45 565h698v1h-698z"/>
</g>
</svg></body></html>
